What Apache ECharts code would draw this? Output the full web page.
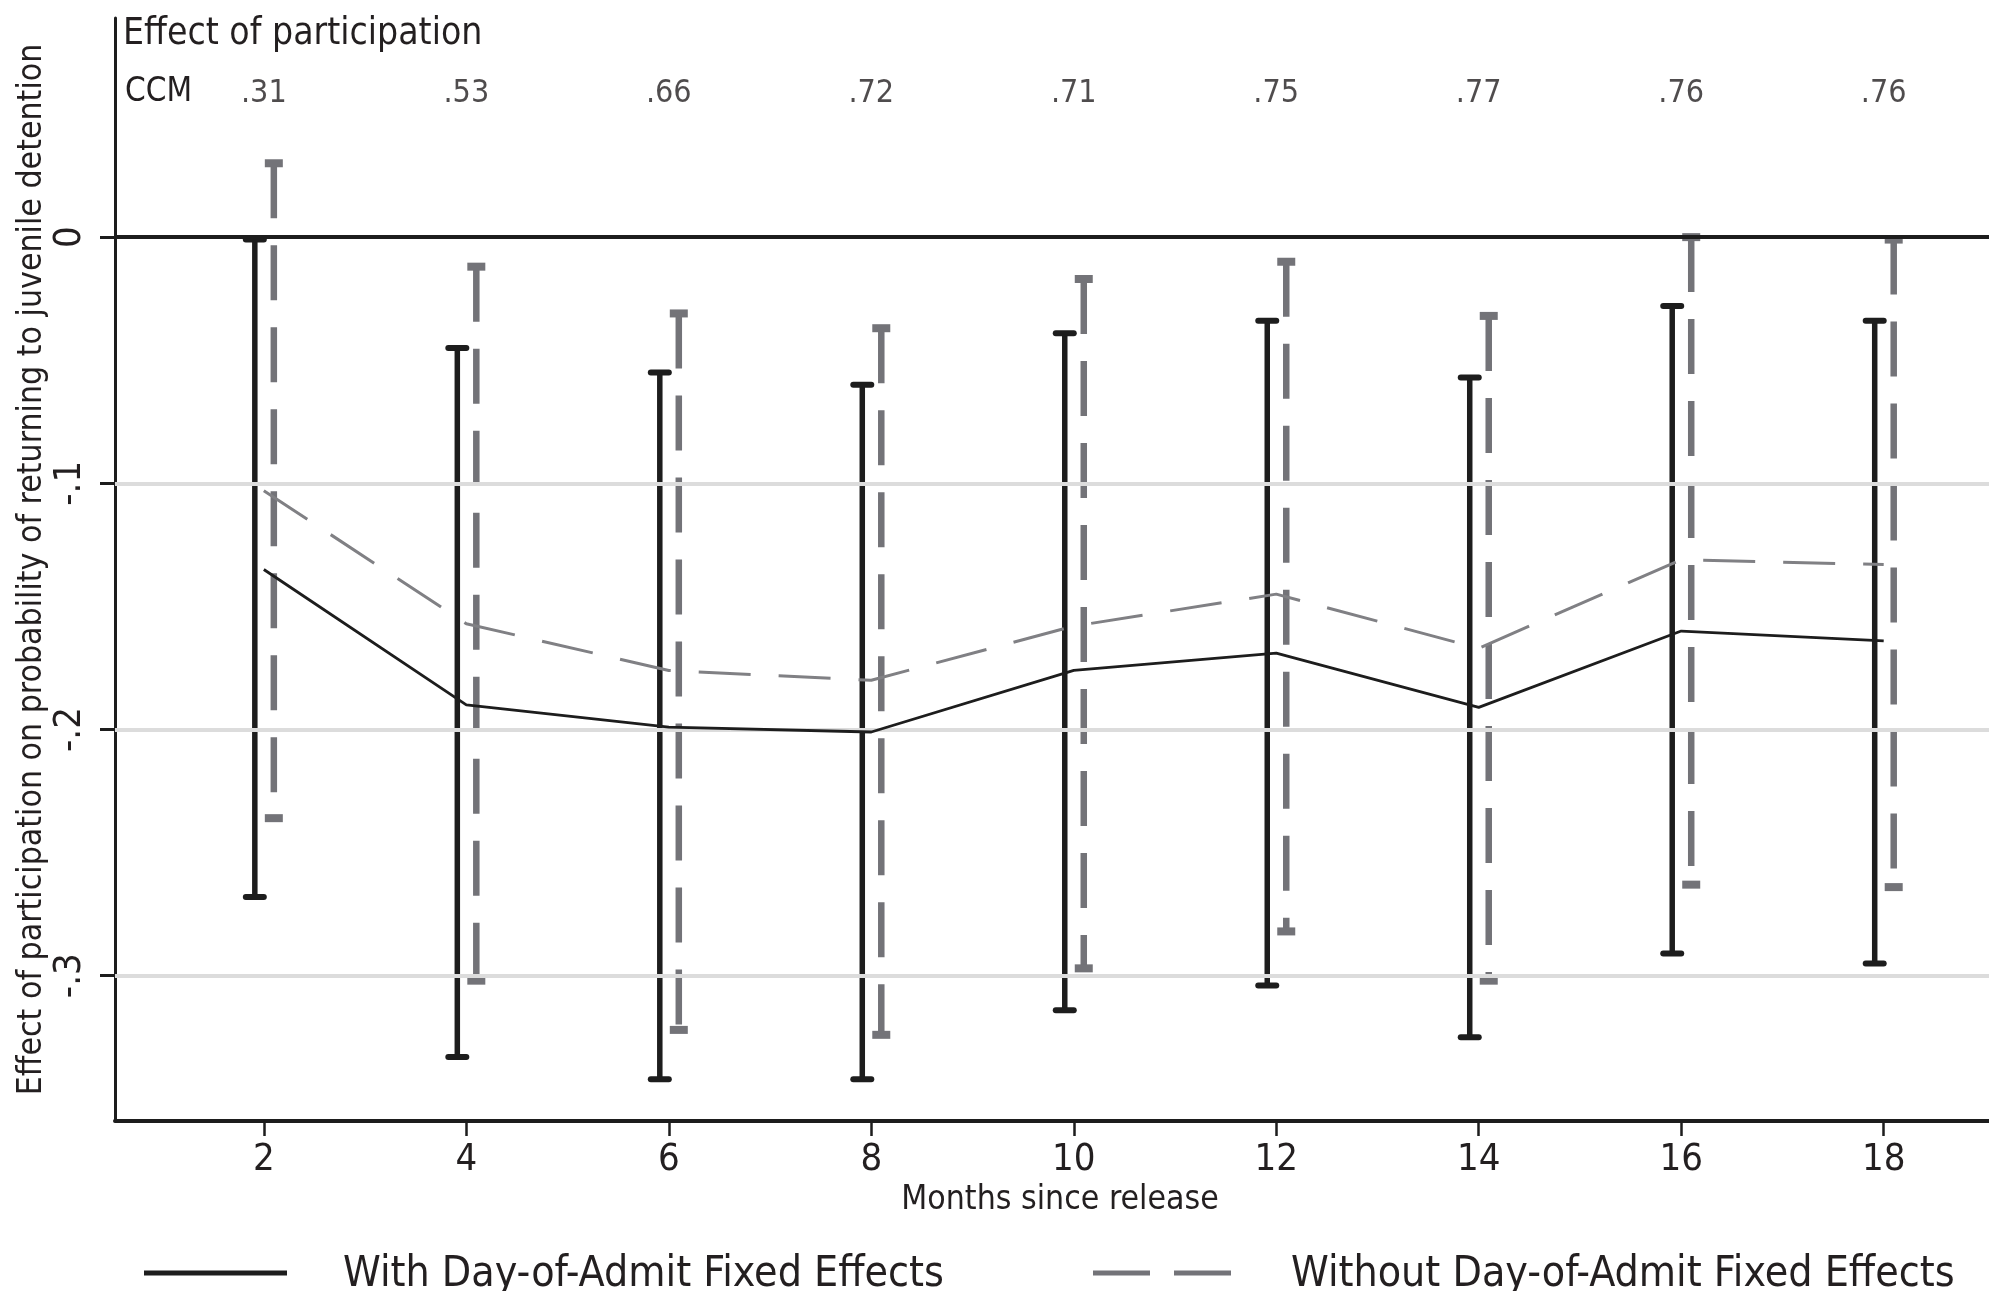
<!DOCTYPE html>
<html>
<head>
<meta charset="utf-8">
<script src="https://cdn.jsdelivr.net/npm/echarts@6/dist/echarts.min.js"></script>
<style>
html,body{margin:0;padding:0;background:#fff;}
#chart{width:1989px;height:1291px;}
</style>
</head>
<body>
<div id="chart"></div>
<script>
// ---- data ----
const months = [2, 4, 6, 8, 10, 12, 14, 16, 18];
const ccmLabels = ['.31', '.53', '.66', '.72', '.71', '.75', '.77', '.76', '.76'];

const withFE      = [-0.135, -0.190, -0.199, -0.201, -0.176, -0.169, -0.191, -0.160, -0.164];
const withFE_hi   = [-0.001, -0.045, -0.055, -0.060, -0.039, -0.034, -0.057, -0.028, -0.034];
const withFE_lo   = [-0.268, -0.333, -0.342, -0.342, -0.314, -0.304, -0.325, -0.291, -0.295];

const withoutFE    = [-0.103, -0.157, -0.176, -0.180, -0.158, -0.145, -0.167, -0.131, -0.133];
const withoutFE_hi = [ 0.030, -0.012, -0.031, -0.037, -0.017, -0.010, -0.032,  0.000, -0.001];
const withoutFE_lo = [-0.236, -0.302, -0.322, -0.324, -0.297, -0.282, -0.302, -0.263, -0.264];

const yTickValues = [0, -0.1, -0.2, -0.3];
const yTickLabels = ['0', '-.1', '-.2', '-.3'];

const seriesNames = ['With Day-of-Admit Fixed Effects', 'Without Day-of-Admit Fixed Effects'];

// ---- style / layout ----
const FONT = '"DejaVu Sans Condensed", "DejaVu Sans", sans-serif';
const INK = '#231f20';
const BLACK = '#1d1d1d';
const GRAY_BAR = '#737378';
const GRAY_LINE = '#808084';
const GRID_GRAY = '#dcdcdc';
const X_MIN = 0.53, X_MAX = 19.04;
const Y_MIN = -0.359, Y_MAX = 0.089;
const CCM_Y = 0.0582;

const chart = echarts.init(document.getElementById('chart'), null, {renderer: 'canvas'});

function errorBar(dx, color, width, dash, capW, capLen, round) {
  return function (params, api) {
    const top = api.coord([api.value(0), api.value(2)]);
    const bot = api.coord([api.value(0), api.value(1)]);
    const x = top[0] + dx;
    const cap = (y) => ({
      type: 'line',
      shape: {x1: x - capLen / 2, y1: y, x2: x + capLen / 2, y2: y},
      style: {stroke: color, lineWidth: capW, lineCap: round ? 'round' : 'butt'}
    });
    return {
      type: 'group',
      children: [
        {type: 'line', shape: {x1: x, y1: top[1], x2: x, y2: bot[1]},
         style: {stroke: color, lineWidth: width, lineDash: dash, lineCap: 'butt'}},
        cap(top[1]), cap(bot[1])
      ]
    };
  };
}

const option = {
  animation: false,
  backgroundColor: '#fff',
  grid: {left: 115, right: 0, top: 18, bottom: 170, containLabel: false},
  xAxis: {
    type: 'value', min: X_MIN, max: X_MAX,
    name: 'Months since release', nameLocation: 'middle', nameGap: 62, nameMoveOverlap: false,
    nameTextStyle: {fontFamily: FONT, fontSize: 33.5, color: INK, padding: [0, 0, 0, 16]},
    axisLine: {show: true, onZero: false, lineStyle: {color: BLACK, width: 4}},
    axisTick: {show: true, customValues: months, length: 15, lineStyle: {color: BLACK, width: 2.5}},
    axisLabel: {customValues: months, fontFamily: FONT, fontSize: 38, color: INK, margin: 20},
    splitLine: {show: false}
  },
  yAxis: {
    type: 'value', min: Y_MIN, max: Y_MAX,
    name: 'Effect of participation on probability of returning to juvenile detention',
    nameLocation: 'middle', nameRotate: 90, nameGap: 66, nameMoveOverlap: false,
    nameTextStyle: {fontFamily: FONT, fontSize: 33.5, color: INK},
    axisLine: {show: true, onZero: false, lineStyle: {color: BLACK, width: 3}},
    axisTick: {show: true, customValues: yTickValues, length: 15, lineStyle: {color: BLACK, width: 3}},
    axisLabel: {
      customValues: yTickValues, rotate: 90, fontFamily: FONT, fontSize: 38, color: INK, margin: 26,
      formatter: (v) => {
        let best = 0;
        yTickValues.forEach((t, i) => { if (Math.abs(t - v) < Math.abs(yTickValues[best] - v)) best = i; });
        return yTickLabels[best];
      }
    },
    splitLine: {show: false}
  },
  series: [
    {
      type: 'line', data: [], z: 1, silent: true,
      markLine: {
        silent: true, symbol: ['none', 'none'], label: {show: false}, animation: false,
        data: [
          {yAxis: -0.1, lineStyle: {color: GRID_GRAY, width: 4, type: 'solid'}},
          {yAxis: -0.2, lineStyle: {color: GRID_GRAY, width: 4, type: 'solid'}},
          {yAxis: -0.3, lineStyle: {color: GRID_GRAY, width: 4, type: 'solid'}},
          {yAxis: 0, lineStyle: {color: BLACK, width: 4, type: 'solid'}}
        ]
      }
    },
    {
      type: 'custom', name: seriesNames[1], z: 3,
      renderItem: errorBar(10, GRAY_BAR, 6.5, [55, 27], 8, 18, false),
      data: months.map((m, i) => [m, withoutFE_lo[i], withoutFE_hi[i]])
    },
    {
      type: 'custom', name: seriesNames[0], z: 4,
      renderItem: errorBar(-9, BLACK, 5.5, null, 6, 18, true),
      data: months.map((m, i) => [m, withFE_lo[i], withFE_hi[i]])
    },
    {
      type: 'line', name: seriesNames[1], z: 5, symbol: 'none',
      lineStyle: {color: GRAY_LINE, width: 3, type: [52, 28]},
      data: months.map((m, i) => [m, withoutFE[i]])
    },
    {
      type: 'line', name: seriesNames[0], z: 6, symbol: 'none',
      lineStyle: {color: BLACK, width: 2.8},
      data: months.map((m, i) => [m, withFE[i]])
    },
    {
      type: 'scatter', z: 7, symbolSize: 0, silent: true,
      data: months.map((m, i) => [m, CCM_Y, ccmLabels[i]]),
      label: {
        show: true, position: 'inside', fontFamily: FONT, fontSize: 32, color: INK,
        formatter: (p) => p.data[2]
      }
    }
  ],
  graphic: [
    {type: 'text', left: 123, top: 16, style: {text: 'Effect of participation', font: '37px ' + FONT, fill: INK}},
    {type: 'text', left: 125, top: 76, style: {text: 'CCM', font: '33px ' + FONT, fill: INK}},
    // legend
    {type: 'line', shape: {x1: 144, y1: 1273, x2: 287, y2: 1273}, style: {stroke: BLACK, lineWidth: 5}},
    {type: 'text', left: 343, top: 1253, style: {text: seriesNames[0], font: '42.5px ' + FONT, fill: INK}},
    {type: 'line', shape: {x1: 1093, y1: 1273, x2: 1231, y2: 1273}, style: {stroke: GRAY_BAR, lineWidth: 5, lineDash: [57, 24]}},
    {type: 'text', left: 1291, top: 1253, style: {text: seriesNames[1], font: '42.5px ' + FONT, fill: INK}}
  ]
};
chart.setOption(option);
</script>
</body>
</html>
